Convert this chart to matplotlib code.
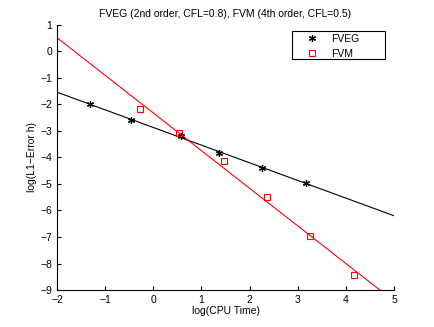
import numpy as np
import matplotlib
matplotlib.use("Agg")
import matplotlib.pyplot as plt
from matplotlib.patches import Rectangle

plt.rcParams['font.family'] = ['Liberation Sans', 'DejaVu Sans']

# log(CPU time) vs log(L1 error)
fveg_x = [-1.31, -0.47, 0.57, 1.37, 2.26, 3.18]
fveg_y = [-1.97, -2.60, -3.21, -3.82, -4.38, -4.97]
fvm_x = [-0.28, 0.53, 1.46, 2.36, 3.25, 4.17]
fvm_y = [-2.16, -3.06, -4.14, -5.50, -6.96, -8.43]

fig = plt.figure(figsize=(4.35, 3.27), dpi=100)
ax = fig.add_axes([0.131, 0.113, 0.775, 0.811])

# least squares fits drawn across the whole x range
xx = np.linspace(-2, 5, 50)
p1 = np.polyfit(fveg_x, fveg_y, 1)
p2 = np.polyfit(fvm_x, fvm_y, 1)
ax.plot(xx, np.polyval(p1, xx), color='black', lw=0.8)
ax.plot(xx, np.polyval(p2, xx), color='red', lw=0.8)

h1, = ax.plot(fveg_x, fveg_y, ls='none', marker=(6, 2, 0), ms=5, mew=0.9,
              color='black', label='FVEG')
h2, = ax.plot(fvm_x, fvm_y, ls='none', marker='s', ms=5, mfc='none', mec='red',
              mew=0.8, label='FVM')

ax.set_xlim(-2, 5)
ax.set_ylim(-9, 1)
ax.set_xticks(range(-2, 6))
ax.set_yticks(range(-9, 2))
ax.spines['top'].set_visible(False)
ax.spines['right'].set_visible(False)
ax.tick_params(direction='in', labelsize=7.5, length=3)
ax.set_xlabel('log(CPU Time)', fontsize=7.5, labelpad=1)
ax.set_ylabel('log(L1\u2212Error h)', fontsize=7.5, labelpad=2)
ax.set_title('FVEG (2nd order, CFL=0.8), FVM (4th order, CFL=0.5)', fontsize=7.5, pad=6)

# legend box with MATLAB-like spacing
ax.add_patch(Rectangle((0.697, 0.872), 0.276, 0.105, transform=ax.transAxes,
                       fill=False, edgecolor='black', lw=0.8, clip_on=False, zorder=5))
ax.legend(handles=[h1, h2], loc='upper left', bbox_to_anchor=(0.740, 0.966),
          fontsize=7.5, frameon=False, handlelength=1.0, handletextpad=1.4,
          borderpad=0, borderaxespad=0, labelspacing=0.45)

fig.savefig('out.png', dpi=100)
